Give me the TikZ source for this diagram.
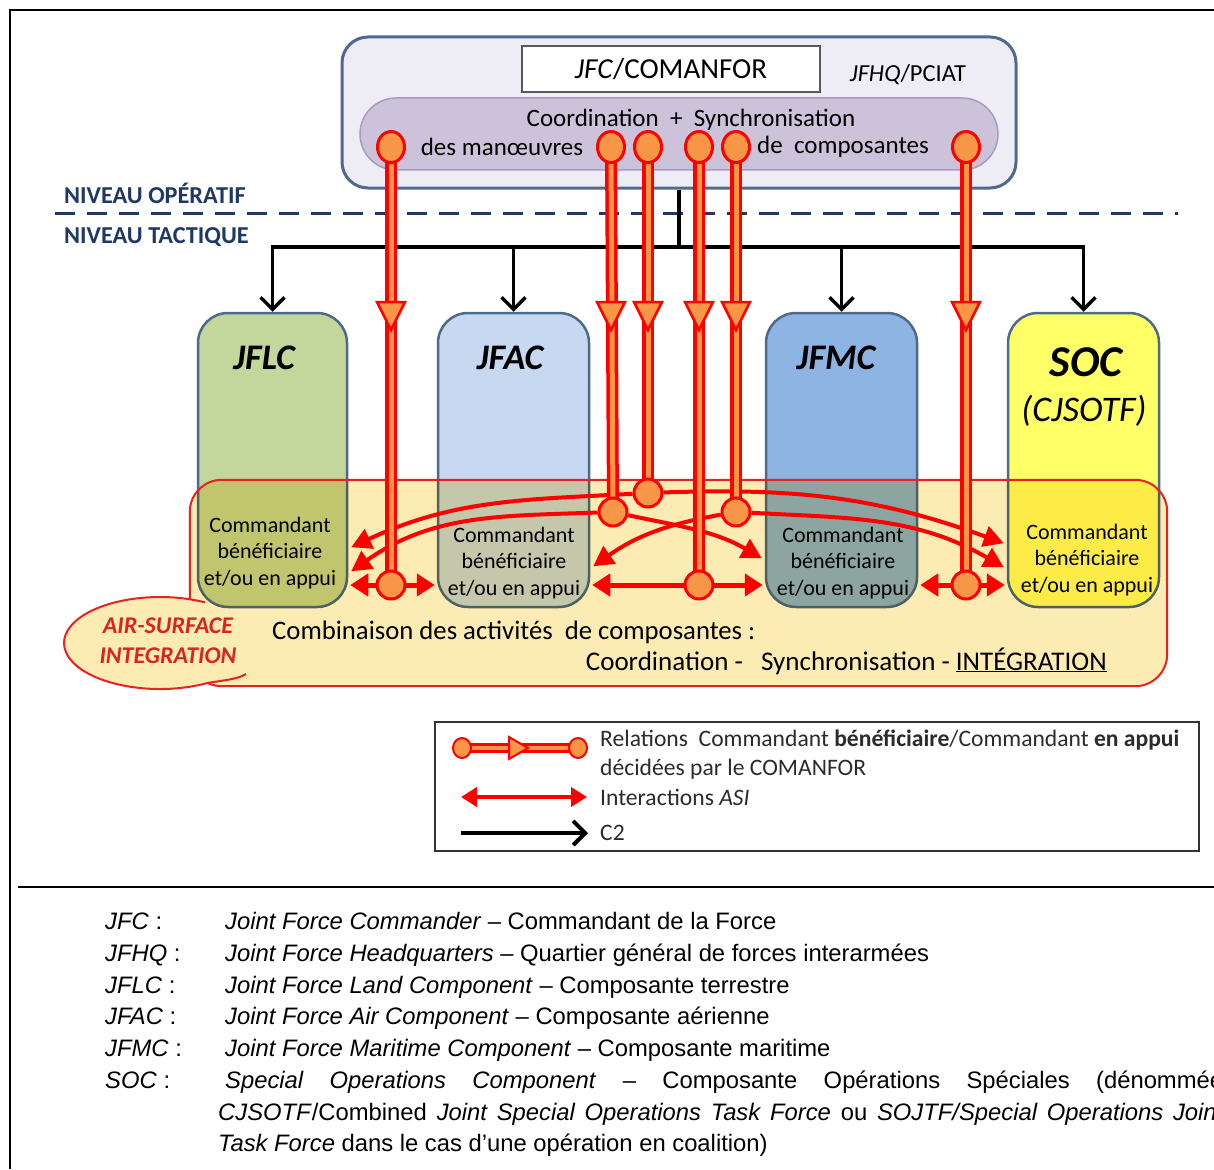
\documentclass[tikz,border=0pt]{standalone}
\usepackage{fontspec}
\setmainfont{Carlito}
\newfontfamily\arialfont{Liberation Sans}
\usetikzlibrary{arrows.meta,shapes.geometric,calc}
\pgfdeclarelayer{front}
\pgfsetlayers{main,front}
\definecolor{hqfill}{HTML}{EEEDF5}
\definecolor{hqline}{HTML}{50698C}
\definecolor{pillfill}{HTML}{CCC3DB}
\definecolor{pillline}{HTML}{A69CBB}
\definecolor{navy}{HTML}{1F3864}
\definecolor{pipered}{HTML}{FF0000}
\definecolor{pipeorange}{HTML}{F79646}
\definecolor{landfill}{HTML}{C3D69B}
\definecolor{airfill}{HTML}{C6D9F1}
\definecolor{seafill}{HTML}{8EB4E3}
\definecolor{socfill}{HTML}{FFFF66}
\definecolor{boxline}{HTML}{4E6A8A}
\definecolor{bandfill}{HTML}{FDEBB4}
\definecolor{bandline}{HTML}{E52421}
\definecolor{calltext}{HTML}{D8261C}
\definecolor{legtext}{HTML}{2B2B2B}
\newcommand{\fsz}[1]{\fontsize{#1}{#1}\selectfont}
\tikzset{
  txt/.style={inner sep=0pt, text=black},
  knob/.style={ellipse, draw=pipered, fill=pipeorange, line width=3pt, minimum width=27pt, minimum height=31pt, inner sep=0pt},
  knobround/.style={knob, minimum width=28pt, minimum height=28pt},
  knobsmall/.style={knob, line width=2pt, minimum width=18pt, minimum height=20pt},
  pipeout/.style={draw=pipered, line width=12pt},
  pipein/.style={draw=pipeorange, line width=5pt},
  pipetri/.style={fill=pipeorange, draw=pipered, line width=2.5pt, line join=miter},
  comp/.style={rectangle, draw=boxline, line width=2.5pt, rounded corners=30pt, minimum height=294pt, inner sep=0pt},
  comptitle/.style={txt, font=\bfseries\itshape\fsz{36}},
  cmdtxt/.style={txt, align=center, font=\fontsize{22}{26.5}\selectfont},
  asicurve/.style={draw=pipered, line width=4pt, -{Triangle[length=20pt,width=21pt]}},
  asidouble/.style={draw=pipered, line width=5pt, {Triangle[length=18pt,width=22pt]}-{Triangle[length=18pt,width=22pt]}},
  c2line/.style={draw=black, line width=3.5pt},
  c2arrow/.style={c2line, -{Straight Barb[length=12pt,width=24pt]}},
  deftxt/.style={txt, anchor=base west, font=\arialfont\fsz{23.8}},
  legtxt/.style={txt, anchor=west, text=legtext, font=\fsz{23.6}},
}
\begin{document}
\begin{tikzpicture}[x=1pt,y=1pt]
\useasboundingbox (0,0) rectangle (1214,-1169);
\fill[white] (0,0) rectangle (1214,-1169);
% frame
\draw[line width=1.5pt] (10,-1169) -- (10,-10) -- (1214,-10);
\draw[line width=1.5pt] (18,-887) -- (1214,-887);

% HQ
\node[rectangle, draw=hqline, fill=hqfill, line width=3pt, rounded corners=26pt, minimum width=674pt, minimum height=151pt, inner sep=0pt] (hq) at (679,-112.5) {};
\node[rectangle, draw=gray!70!black, fill=white, line width=1.5pt, minimum width=298pt, minimum height=46pt, inner sep=0pt, font=\fsz{29}] (jfc) at (671,-69) {\textit{JFC}/COMANFOR};
\node[txt, font=\fsz{24.5}] (jfhq) at (908,-75) {\textit{JFHQ}/PCIAT};
\node[rectangle, draw=pillline, fill=pillfill, line width=1.5pt, rounded corners=36pt, minimum width=638pt, minimum height=72pt, inner sep=0pt] (pill) at (679,-134) {};
\node[txt, font=\fsz{25}] (coord) at (691,-120) {Coordination\ \ +\ \ Synchronisation};
\node[txt, font=\fsz{25}] (desman) at (502,-147) {des manœuvres};
\node[txt, font=\fsz{25}] (decomp) at (843,-147) {de\ \ composantes};

% levels
\coordinate (dashL) at (55,-213);
\coordinate (dashR) at (1178,-213);
\draw[navy, line width=3pt, dash pattern=on 20pt off 12pt] (dashL) -- (dashR);
\node[txt, anchor=west, text=navy, font=\bfseries\fsz{24.3}] (opr) at (64,-193) {NIVEAU OPÉRATIF};
\node[txt, anchor=west, text=navy, font=\bfseries\fsz{24.3}] (tac) at (64,-237) {NIVEAU TACTIQUE};

% component boxes
\node[comp, fill=landfill, minimum width=149pt] (jflc) at (272.5,-460) {};
\node[comp, fill=airfill, minimum width=151pt] (jfac) at (513.5,-460) {};
\node[comp, fill=seafill, minimum width=151pt] (jfmc) at (841.5,-460) {};
\node[comp, fill=socfill, minimum width=151pt] (soc) at (1083.5,-460) {};
\node[comptitle] (jflct) at (264,-358) {JFLC};
\node[comptitle] (jfact) at (510,-358) {JFAC};
\node[comptitle] (jfmct) at (836,-358) {JFMC};
\node[txt, font=\bfseries\itshape\fsz{44}] (soct) at (1086,-362) {SOC};
\node[txt, font=\itshape\fsz{36}] (cjsotf) at (1084,-411) {(CJSOTF)};

% C2
\coordinate (hub) at (679,-247);
\draw[c2line] (hq.south) -- (hub);
\draw[c2arrow] (hub) -| (jflc.north);
\draw[c2arrow] (hub) -| (jfac.north);
\draw[c2arrow] (hub) -| (jfmc.north);
\draw[c2arrow] (hub) -| (soc.north);

% integration band
\begin{scope}[blend mode=multiply]
\node[rectangle, fill=bandfill, rounded corners=32pt, minimum width=977pt, minimum height=206pt, inner sep=0pt] (band) at (678.5,-583) {};
\end{scope}
\draw[bandline, line width=2pt, rounded corners=32pt] (band.south west) rectangle (band.north east);

% callout
\begin{scope}
\clip (0,-560) rectangle (192,-700) (192,-609) rectangle (262,-700);
\fill[bandfill] (160,-643) ellipse [x radius=96, y radius=46];
\end{scope}
\draw[bandline, line width=2pt] (205.1,-602.4) arc[start angle=62, end angle=300, x radius=96, y radius=46] .. controls (226,-680) and (238,-679) .. (246,-674);
\node[txt, align=center, text=calltext, font=\bfseries\itshape\fontsize{24}{30}\selectfont] (ast) at (168,-641) {AIR-SURFACE\\INTEGRATION};

% commandant texts
\node[cmdtxt] (cmd1) at (270,-553) {Commandant\\bénéficiaire\\et/ou en appui};
\node[cmdtxt] (cmd2) at (514,-563) {Commandant\\bénéficiaire\\et/ou en appui};
\node[cmdtxt] (cmd3) at (843,-563) {Commandant\\bénéficiaire\\et/ou en appui};
\node[cmdtxt] (cmd4) at (1087,-560) {Commandant\\bénéficiaire\\et/ou en appui};

% knobs (front layer)
\begin{pgfonlayer}{front}
\node[knob] (t1) at (391,-147) {};
\node[knob] (t2) at (611,-147) {};
\node[knob] (t3) at (648,-147) {};
\node[knob] (t4) at (699,-147) {};
\node[knob] (t5) at (736,-147) {};
\node[knob] (t6) at (966,-147) {};
\node[knobround] (m1) at (613,-512) {};
\node[knobround] (m2) at (648,-493) {};
\node[knobround] (m3) at (736,-512) {};
\node[knobround] (b1) at (391,-585) {};
\node[knobround] (b2) at (699,-585) {};
\node[knobround] (b3) at (966,-585) {};
\node[knobsmall] (lk1) at (462,-748) {};
\node[knobsmall] (lk2) at (578,-748) {};
\end{pgfonlayer}

% ASI curves
\draw[asicurve] (m2) to[out=183,in=25] ($(jflc.south east)+(3,61)$);
\draw[asicurve] (m1) to[out=182,in=35] ($(jflc.south east)+(3,37)$);
\draw[asicurve] (m1) to[out=-12,in=150] ($(jfmc.south west)+(-3,50)$);
\draw[asicurve] (m3) to[out=190,in=35] ($(jfac.south east)+(3,42)$);
\draw[asicurve] (m2) to[out=2,in=160] ($(soc.south west)+(-3,65)$);
\draw[asicurve] (m3) to[out=-3,in=150] ($(soc.south west)+(-3,41)$);
\draw[asidouble, shorten <=2pt, shorten >=2pt] (jflc.east |- b1) -- (jfac.west |- b1);
\draw[asidouble, shorten <=2pt, shorten >=2pt] (jfac.east |- b2) -- (jfmc.west |- b2);
\draw[asidouble, shorten <=2pt, shorten >=2pt] (jfmc.east |- b3) -- (soc.west |- b3);

% pipes
\foreach \a/\b in {t1/b1,t2/m1,t3/m2,t4/b2,t5/m3,t6/b3}{
  \draw[pipeout] (\a.center) -- (\b.center);
  \draw[pipein] (\a.center) -- (\b.center);
  \filldraw[pipetri] ($(\a)+(-14,-155)$) -- ++(28,0) -- ++(-14,-28) -- cycle;
}

% band texts
\node[txt, anchor=west, font=\fsz{26.7}] (comb) at (272,-632) {Combinaison des activités\ \ de composantes :};
\node[txt, anchor=east, font=\fsz{27}] (csi) at (1107,-661) {Coordination -\ \ \ Synchronisation - \underline{INTÉGRATION}};

% legend
\node[rectangle, draw=black!80, line width=1.3pt, minimum width=764pt, minimum height=129pt, inner sep=0pt] (legend) at (817,-786.5) {};
\draw[pipeout, line width=10pt] (lk1.center) -- (lk2.center);
\draw[pipein, line width=4pt] (lk1.center) -- (lk2.center);
\filldraw[pipetri, line width=2pt] ($(lk1)+(47,11)$) -- ++(0,-22) -- ++(19,11) -- cycle;
\coordinate (la1) at (461,-797);
\coordinate (la2) at (587,-797);
\draw[draw=pipered, line width=4pt, {Triangle[length=16pt,width=19pt]}-{Triangle[length=16pt,width=19pt]}] (la1) -- (la2);
\coordinate (lc1) at (461,-833);
\coordinate (lc2) at (588,-833);
\draw[c2arrow, line width=4pt] (lc1) -- (lc2);
\node[legtxt] (lt1) at (600,-740) {Relations\ \ Commandant \textbf{bénéficiaire}/Commandant \textbf{en appui}};
\node[legtxt] (lt2) at (600,-769) {décidées par le COMANFOR};
\node[legtxt] (lt3) at (600,-797) {Interactions \textit{ASI}};
\node[legtxt] (lt4) at (600,-833) {C2};

% definitions
\node[deftxt] (d1l) at (105,-929) {\textit{JFC} :};
\node[deftxt] (d1) at (225,-929) {\textit{Joint Force Commander} – Commandant de la Force};
\node[deftxt] (d2l) at (105,-961) {\textit{JFHQ} :};
\node[deftxt] (d2) at (225,-961) {\textit{Joint Force Headquarters} – Quartier général de forces interarmées};
\node[deftxt] (d3l) at (105,-993) {\textit{JFLC} :};
\node[deftxt] (d3) at (225,-993) {\textit{Joint Force Land Component} – Composante terrestre};
\node[deftxt] (d4l) at (105,-1024) {\textit{JFAC} :};
\node[deftxt] (d4) at (225,-1024) {\textit{Joint Force Air Component} – Composante aérienne};
\node[deftxt] (d5l) at (105,-1056) {\textit{JFMC} :};
\node[deftxt] (d5) at (225,-1056) {\textit{Joint Force Maritime Component} – Composante maritime};
\node[deftxt] (d6l) at (105,-1088) {\textit{SOC} :};
\node[deftxt] (d6) at (225,-1088) {\makebox[998pt][s]{\textit{Special Operations Component} – Composante Opérations Spéciales (dénommée}};
\node[deftxt] (d7) at (218,-1120) {\makebox[1006pt][s]{\textit{CJSOTF}/Combined \textit{Joint Special Operations Task Force} ou \textit{SOJTF/Special Operations Joint}}};
\node[deftxt] (d8) at (218,-1151) {\textit{Task Force} dans le cas d’une opération en coalition)};
\end{tikzpicture}
\end{document}
